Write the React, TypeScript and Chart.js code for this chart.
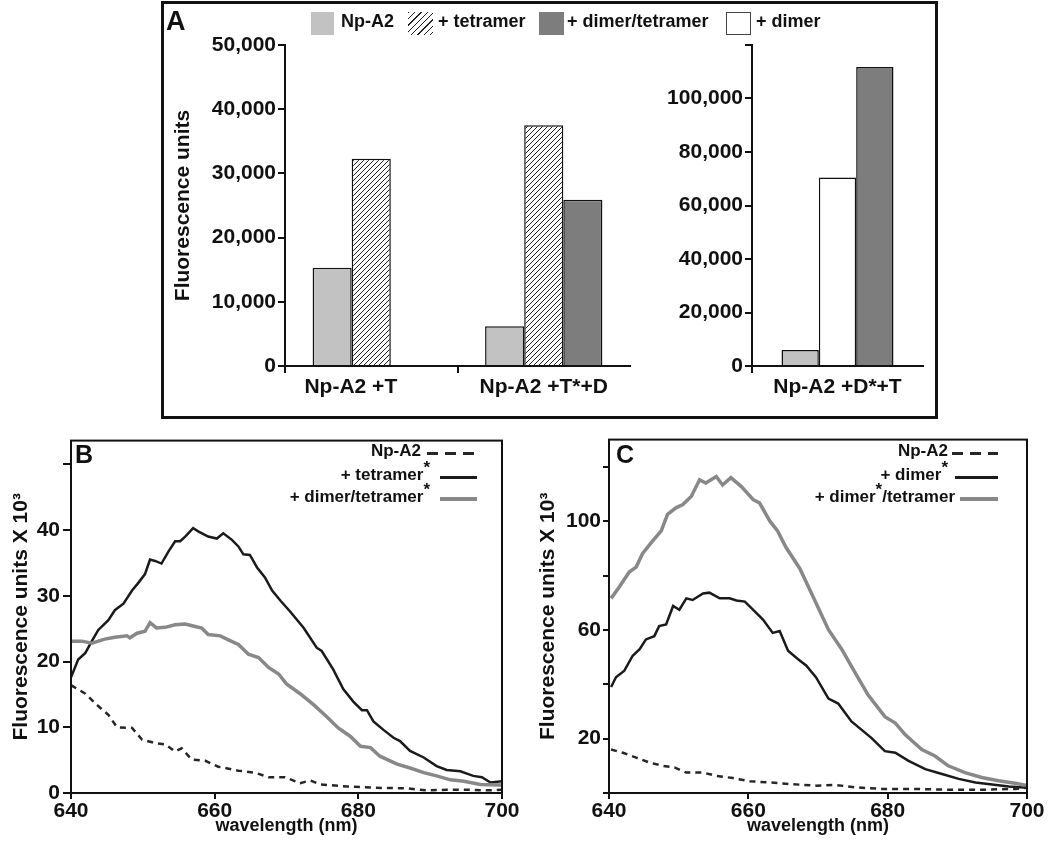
import React, { useEffect, useRef } from 'react';
import { Chart, registerables } from 'chart.js';

Chart.register(...registerables);

const FONT = "'Liberation Sans', Arial, Helvetica, sans-serif";
const INK = '#111111';
const LIGHT = '#c2c2c2';
const DARK = '#7d7d7d';
const LINE_BLACK = '#1a1a1a';
const LINE_GRAY = '#888888';

// ---------- Panel A (bar charts) ----------
const groupLabelsA1 = ['Np-A2 +T', 'Np-A2 +T*+D'];
const npA2A1 = [15300, 6200];
const tetramerA1 = [32300, 37500];
const dimerTetramerA1 = [null, 25900];

const groupLabelsA2 = ['Np-A2 +D*+T'];
const npA2A2 = [6000];
const dimerA2 = [70500];
const dimerTetramerA2 = [111800];

const legendA = ['Np-A2', '+ tetramer', '+ dimer/tetramer', '+ dimer'];

// ---------- Panel B (spectra) ----------
const bNpA2Wl = [640, 642, 643.6, 645.2, 646.4, 648.5, 649.9, 651.7, 653.1, 654.5, 655.4, 656.8, 658.7, 660.5, 663.3, 665.6, 667.5, 669.8, 671.9, 673.3, 674.7, 678.4, 682.1, 686.8, 689.6, 692.4, 695.1, 697.9, 700];
const bNpA2Val = [16.4, 15.1, 13.4, 11.9, 10.0, 9.9, 8.1, 7.6, 7.4, 6.3, 6.8, 5.1, 4.9, 4.0, 3.4, 3.1, 2.4, 2.4, 1.5, 1.9, 1.3, 1.0, 0.8, 0.7, 0.4, 0.5, 0.5, 0.4, 0.5];

const bTetWl = [640, 641, 642, 642.9, 643.8, 645.2, 646.1, 647.3, 648.5, 649.4, 650.3, 651, 651.7, 652.6, 653.6, 654.5, 655.2, 655.9, 657, 657.7, 659.1, 660.3, 661.2, 662.4, 663.3, 664, 664.9, 665.9, 667, 668, 669.2, 670.5, 672.4, 674.2, 674.9, 676.5, 677.9, 679.3, 680.5, 681.2, 682.1, 683.5, 684.9, 685.8, 687.2, 689.1, 690.9, 692.3, 694.2, 696, 697.2, 698.4, 700];
const bTetVal = [17.6, 20.3, 21.3, 23.1, 24.8, 26.3, 27.8, 28.8, 30.8, 32.0, 33.3, 35.5, 35.3, 34.9, 36.8, 38.3, 38.3, 39.0, 40.3, 39.8, 39.0, 38.7, 39.5, 38.5, 37.5, 36.3, 36.2, 34.3, 32.8, 30.8, 29.2, 27.6, 25.1, 22.1, 21.6, 18.8, 15.8, 13.9, 12.6, 12.6, 10.9, 9.6, 8.4, 7.9, 6.4, 5.4, 4.1, 3.5, 3.3, 2.6, 2.4, 1.6, 1.8];

const bDimTetWl = [640, 641.5, 642.9, 644.7, 646.1, 647.8, 648.2, 649.2, 650.3, 651, 651.9, 653.1, 654.5, 655.9, 657, 658.2, 659.1, 660.8, 661.9, 663.3, 664.7, 666.1, 667.5, 668.9, 670, 671.9, 673.8, 675.6, 677.2, 678.9, 680.3, 681.7, 683, 685.4, 687.2, 689.1, 690.9, 692.8, 694.7, 697, 700];
const bDimTetVal = [23.1, 23.1, 22.8, 23.4, 23.7, 23.9, 23.6, 24.3, 24.6, 25.9, 25.1, 25.2, 25.6, 25.7, 25.4, 25.1, 24.1, 23.9, 23.3, 22.6, 21.1, 20.6, 19.1, 18.1, 16.6, 15.1, 13.4, 11.6, 9.9, 8.6, 7.1, 6.9, 5.6, 4.4, 3.8, 3.1, 2.6, 2.0, 1.8, 1.3, 1.2];

// ---------- Panel C (spectra) ----------
const cNpA2Wl = [640.3, 642, 643.9, 645.8, 647.7, 649.4, 651.1, 653.5, 655.4, 657.8, 660.2, 663.1, 665.9, 669.8, 672.4, 675.3, 679.2, 683.9, 688.7, 693.5, 698.3, 700];
const cNpA2Val = [16.0, 14.8, 13.0, 11.2, 10.0, 9.4, 7.5, 7.5, 6.3, 5.5, 4.3, 3.9, 3.3, 2.7, 3.0, 2.1, 1.5, 1.5, 1.2, 1.2, 1.5, 1.9];

const cDimWl = [640.3, 641, 642.2, 643.4, 644.4, 645.3, 646.5, 647.2, 648.2, 649.2, 650.1, 651.1, 652, 653.5, 654.4, 655.9, 657.3, 658.3, 659.5, 660.7, 662.1, 663.5, 664.5, 665.7, 667.1, 668.3, 669.7, 671.5, 672.9, 674.8, 677.7, 679.6, 681.1, 683, 685.4, 687.8, 690.2, 692.6, 695, 697.4, 700];
const cDimVal = [39.0, 42.6, 45.0, 50.5, 52.9, 56.5, 57.7, 61.4, 62.0, 68.8, 67.4, 71.6, 71.0, 73.4, 73.7, 71.6, 71.6, 70.8, 70.4, 67.4, 63.8, 58.9, 59.6, 52.3, 49.3, 46.9, 42.6, 34.7, 32.9, 26.3, 20.2, 15.4, 14.8, 11.8, 8.8, 7.0, 5.2, 3.9, 3.1, 2.4, 1.9];

const cDimTetWl = [640.3, 641.5, 642.9, 643.9, 644.8, 646.3, 647.5, 648.4, 649.6, 650.6, 651.8, 653, 653.9, 655.4, 656.3, 657.5, 659, 660.7, 661.6, 663.1, 664.2, 665.4, 667.4, 669.7, 671.5, 673.4, 675.3, 677.2, 679.6, 681.1, 682.5, 684.9, 686.8, 688.7, 691.1, 693.5, 695.9, 698.3, 700];
const cDimTetVal = [71.6, 75.9, 81.3, 83.1, 88.0, 92.8, 96.4, 102.5, 104.9, 106.1, 109.1, 115.2, 114.0, 116.4, 113.3, 116.0, 112.7, 107.9, 106.7, 100.0, 96.4, 90.4, 82.5, 70.0, 60.1, 52.9, 44.4, 36.0, 28.1, 25.7, 21.5, 16.0, 13.6, 10.0, 7.5, 5.7, 4.5, 3.6, 2.7];

// tick labels
const waveTickLabels = [640, 660, 680, 700];
const bYTickLabels = [0, 10, 20, 30, 40];
const cYTickLabels = [20, 60, 100];

const legendB = ['Np-A2', '+ tetramer*', '+ dimer/tetramer*'];
const legendC = ['Np-A2', '+ dimer*', '+ dimer*/tetramer'];

// ---------- helpers ----------
const bold = (size: number) => ({ family: FONT, size, weight: 'bold' as const });

const pts = (xs: number[], ys: number[]) => xs.map((x, i) => ({ x, y: ys[i] }));

const framePlugin = {
  id: 'frame',
  afterDraw(chart: any) {
    const { ctx, chartArea: a } = chart;
    ctx.save();
    ctx.strokeStyle = INK;
    ctx.lineWidth = 2;
    ctx.strokeRect(a.left, a.top, a.right - a.left, a.bottom - a.top);
    ctx.restore();
  },
};

function makeHatch(): CanvasPattern | string {
  const p = document.createElement('canvas');
  p.width = 5;
  p.height = 5;
  const c = p.getContext('2d');
  if (!c) return '#fff';
  c.fillStyle = '#ffffff';
  c.fillRect(0, 0, 5, 5);
  c.strokeStyle = '#1e1e1e';
  c.lineWidth = 1;
  c.beginPath();
  c.moveTo(0, 5);
  c.lineTo(5, 0);
  c.moveTo(-1, 1);
  c.lineTo(1, -1);
  c.moveTo(4, 6);
  c.lineTo(6, 4);
  c.stroke();
  const ctx = document.createElement('canvas').getContext('2d');
  return (ctx && ctx.createPattern(p, 'repeat')) || '#fff';
}

function ChartCanvas(props: { left: number; top: number; width: number; height: number; make: () => any }) {
  const ref = useRef<HTMLCanvasElement | null>(null);
  useEffect(() => {
    if (!ref.current) return;
    const chart = new Chart(ref.current, props.make());
    return () => chart.destroy();
  }, []);
  return (
    <canvas
      ref={ref}
      width={props.width}
      height={props.height}
      style={{ position: 'absolute', left: props.left, top: props.top, width: props.width, height: props.height }}
    />
  );
}

const axisGrid = (tickLength: number, hideEnd = false) => ({
  drawOnChartArea: false,
  drawTicks: true,
  tickLength,
  color: INK,
  tickColor: (c: any) => (hideEnd && !c.tick ? 'rgba(0,0,0,0)' : INK),
  lineWidth: 2,
});

function barConfig(kind: 'left' | 'right') {
  const hatch = makeHatch();
  const isLeft = kind === 'left';
  const labels = isLeft ? groupLabelsA1 : groupLabelsA2;
  const datasets = isLeft
    ? [
        { label: legendA[0], data: npA2A1, backgroundColor: LIGHT },
        { label: legendA[1], data: tetramerA1, backgroundColor: hatch },
        { label: legendA[2], data: dimerTetramerA1, backgroundColor: DARK },
      ]
    : [
        { label: legendA[0], data: npA2A2, backgroundColor: LIGHT },
        { label: legendA[3], data: dimerA2, backgroundColor: '#ffffff' },
        { label: legendA[2], data: dimerTetramerA2, backgroundColor: DARK },
      ];
  return {
    type: 'bar',
    data: {
      labels,
      datasets: datasets.map((d) => ({ ...d, borderColor: INK, borderWidth: 1.5 })),
    },
    options: {
      responsive: false,
      animation: false,
      layout: { padding: { top: 41, right: isLeft ? 5 : 12, left: 0, bottom: 0 } },
      datasets: { bar: { categoryPercentage: isLeft ? 0.68 : 0.655, barPercentage: 1 } },
      plugins: { legend: { display: false }, tooltip: { enabled: false } },
      scales: {
        x: {
          grid: axisGrid(7, true),
          border: { display: true, color: INK, width: 2 },
          ticks: {
            font: bold(21),
            color: INK,
            padding: 2,
            maxRotation: 0,
            autoSkip: false,
            callback: (_v: any, i: number) => (isLeft && i === 0 ? labels[i] + '       ' : labels[i]),
          },
          afterFit: (s: any) => {
            s.height = 50;
          },
        },
        y: {
          min: 0,
          max: isLeft ? 50000 : 120000,
          grid: axisGrid(7),
          border: { display: true, color: INK, width: 2 },
          ticks: {
            stepSize: isLeft ? 10000 : 20000,
            font: bold(21),
            color: INK,
            padding: 2,
            callback: (v: any) => (!isLeft && v === 120000 ? '' : Number(v).toLocaleString('en-US')),
          },
          title: isLeft
            ? { display: true, text: 'Fluorescence units', font: bold(21), color: INK, padding: { top: 6, bottom: 0 } }
            : { display: false },
          afterFit: (s: any) => {
            s.width = isLeft ? 120 : 112;
          },
        },
      },
    },
  };
}

function spectraConfig(kind: 'B' | 'C') {
  const isB = kind === 'B';
  const dashed = isB ? pts(bNpA2Wl, bNpA2Val) : pts(cNpA2Wl, cNpA2Val);
  const black = isB ? pts(bTetWl, bTetVal) : pts(cDimWl, cDimVal);
  const gray = isB ? pts(bDimTetWl, bDimTetVal) : pts(cDimTetWl, cDimTetVal);
  const labels = isB ? legendB : legendC;
  const yLabels = isB ? bYTickLabels : cYTickLabels;
  return {
    type: 'line',
    data: {
      datasets: [
        { label: labels[0], data: dashed, borderColor: '#262626', borderWidth: 2.5, borderDash: [6, 5], pointRadius: 0 },
        { label: labels[2], data: gray, borderColor: LINE_GRAY, borderWidth: 3.5, pointRadius: 0 },
        { label: labels[1], data: black, borderColor: LINE_BLACK, borderWidth: 2.5, pointRadius: 0 },
      ],
    },
    options: {
      responsive: false,
      animation: false,
      layout: { padding: { top: 9, right: 23, left: 0, bottom: 0 } },
      plugins: { legend: { display: false }, tooltip: { enabled: false } },
      scales: {
        x: {
          type: 'linear',
          min: 640,
          max: 700,
          grid: axisGrid(6),
          border: { display: false },
          ticks: {
            stepSize: 20,
            font: bold(21),
            color: INK,
            padding: 0,
            callback: (v: any) => (waveTickLabels.includes(v) ? String(v) : ''),
          },
          title: { display: true, text: 'wavelength (nm)', font: bold(18), color: INK, padding: { top: 0, bottom: 11 } },
          afterFit: (s: any) => {
            s.height = 55;
          },
        },
        y: {
          min: 0,
          max: isB ? 53.6 : 130,
          grid: axisGrid(isB ? 8 : 6),
          border: { display: false },
          ticks: {
            stepSize: isB ? 10 : 20,
            includeBounds: false,
            autoSkip: false,
            font: bold(21),
            color: INK,
            padding: isB ? 3 : 2,
            callback: (v: any) => (yLabels.includes(v) ? String(v) : ''),
          },
          title: {
            display: true,
            text: 'Fluorescence units X 10\u00b3',
            font: bold(21),
            color: INK,
            padding: { top: isB ? 9 : 11, bottom: 0 },
          },
          afterFit: (s: any) => {
            s.width = isB ? 71 : 84;
          },
        },
      },
    },
    plugins: [framePlugin],
  };
}

// ---------- HTML overlays (legends and panel letters) ----------
function StarText({ text, size }: { text: string; size: number }) {
  const parts = text.split('*');
  return (
    <>
      {parts.map((p, i) => (
        <React.Fragment key={i}>
          {p}
          {i < parts.length - 1 && (
            <span style={{ position: 'relative', top: -7, fontSize: size }}>*</span>
          )}
        </React.Fragment>
      ))}
    </>
  );
}

const dashedBg = 'repeating-linear-gradient(to right, #262626 0 11px, transparent 11px 18px)';

function LineLegendRow(props: { text: string; right: number; y: number; x1: number; x2: number; kind: 'dash' | 'black' | 'gray' }) {
  const { text, right, y, x1, x2, kind } = props;
  const bg = kind === 'dash' ? dashedBg : kind === 'black' ? LINE_BLACK : LINE_GRAY;
  const h = kind === 'gray' ? 4 : 3;
  return (
    <>
      <div
        style={{
          position: 'absolute',
          right: 1050 - right,
          top: y - 12,
          height: 24,
          lineHeight: '24px',
          whiteSpace: 'nowrap',
          font: `bold 17px ${FONT}`,
          color: INK,
        }}
      >
        <StarText text={text} size={17} />
      </div>
      <div style={{ position: 'absolute', left: x1, top: y - h / 2, width: x2 - x1, height: h, background: bg }} />
    </>
  );
}

function Letter({ ch, left, top, size }: { ch: string; left: number; top: number; size: number }) {
  return (
    <div style={{ position: 'absolute', left, top, font: `bold ${size}px ${FONT}`, lineHeight: 1, color: INK }}>{ch}</div>
  );
}

function Swatch({ left, width, bg, border }: { left: number; width: number; bg: string; border?: string }) {
  return (
    <div
      style={{
        position: 'absolute',
        left,
        top: 12,
        width,
        height: 23,
        background: bg,
        border: border || 'none',
        boxSizing: 'border-box',
      }}
    />
  );
}

function LegendTextA({ text, left }: { text: string; left: number }) {
  return (
    <div
      style={{
        position: 'absolute',
        left,
        top: 11,
        height: 24,
        lineHeight: '24px',
        whiteSpace: 'nowrap',
        font: `bold 18px ${FONT}`,
        color: INK,
      }}
    >
      {text}
    </div>
  );
}

export default function App() {
  return (
    <div
      style={{
        position: 'absolute',
        left: 0,
        top: 0,
        width: 1050,
        height: 848,
        background: '#ffffff',
        overflow: 'hidden',
        fontFamily: FONT,
      }}
    >
      <div
        style={{
          position: 'absolute',
          left: 161,
          top: 1,
          width: 777,
          height: 418,
          border: '3px solid #111',
          boxSizing: 'border-box',
        }}
      />
      <ChartCanvas left={165} top={4} width={470} height={412} make={() => barConfig('left')} />
      <ChartCanvas left={640} top={4} width={295} height={412} make={() => barConfig('right')} />
      <ChartCanvas left={0} top={425} width={525} height={423} make={() => spectraConfig('B')} />
      <ChartCanvas left={525} top={425} width={525} height={423} make={() => spectraConfig('C')} />

      <Letter ch="A" left={166} top={8} size={27} />
      <Letter ch="B" left={75} top={442} size={25} />
      <Letter ch="C" left={616} top={442} size={25} />

      <Swatch left={311} width={23} bg={LIGHT} />
      <LegendTextA text={legendA[0]} left={341} />
      <Swatch left={408} width={25} bg="repeating-linear-gradient(135deg, #1e1e1e 0 1px, #ffffff 1px 4.5px)" />
      <LegendTextA text={legendA[1]} left={438} />
      <Swatch left={539} width={25} bg={DARK} />
      <LegendTextA text={legendA[2]} left={567} />
      <Swatch left={726} width={25} bg="#ffffff" border="1.5px solid #444" />
      <LegendTextA text={legendA[3]} left={756} />

      <LineLegendRow text={legendB[0]} right={421} y={453} x1={427} x2={477} kind="dash" />
      <LineLegendRow text={legendB[1]} right={430} y={477} x1={440} x2={477} kind="black" />
      <LineLegendRow text={legendB[2]} right={430} y={499} x1={440} x2={477} kind="gray" />

      <LineLegendRow text={legendC[0]} right={948} y={453} x1={952} x2={998} kind="dash" />
      <LineLegendRow text={legendC[1]} right={948} y={477} x1={955} x2={998} kind="black" />
      <LineLegendRow text={legendC[2]} right={955} y={499} x1={960} x2={998} kind="gray" />
    </div>
  );
}
